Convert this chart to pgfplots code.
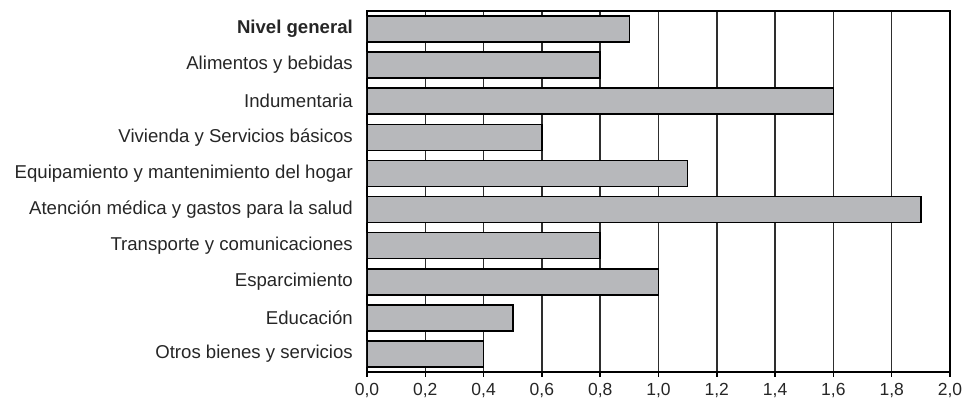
\documentclass[border=0pt]{standalone}
\usepackage{pgfplots}
\pgfplotsset{compat=1.18}
\usepackage{fontspec}
\setmainfont{Liberation Sans}
\definecolor{barfill}{HTML}{B7B8BB}
\definecolor{txt}{HTML}{262626}
\definecolor{gridc}{HTML}{2E2E2E}

\begin{document}
\begin{tikzpicture}
\begin{axis}[
  name=ax,
  scale only axis,
  width=583pt, height=361pt,
  xbar, bar width=0.72,
  xmin=0, xmax=2, ymin=-0.5, ymax=9.5,
  y dir=reverse,
  xtick={0,0.2,...,2.0},
  ytick={0,...,9},
  yticklabels={\textbf{Nivel general},Alimentos y bebidas,Indumentaria,Vivienda y Servicios básicos,Equipamiento y mantenimiento del hogar,Atención médica y gastos para la salud,Transporte y comunicaciones,Esparcimiento,Educación,Otros bienes y servicios},
  xticklabel style={/pgf/number format/fixed, /pgf/number format/fixed zerofill,
    /pgf/number format/precision=1, /pgf/number format/use comma,
    /pgf/number format/assume math mode=true,
    font=\fontsize{17.5}{20}\selectfont, text=txt, yshift=-3pt},
  yticklabel style={font=\fontsize{18.6}{22}\selectfont, text=txt, inner sep=0pt, xshift=-9pt},
  xtick pos=bottom, ytick pos=left,
  x tick style={black, line width=1.5pt},
  xtick align=outside, major tick length=5pt,
  y tick style={draw=none},
  xmajorgrids,
  major grid style={gridc, line width=1.5pt},
  axis line style={black, line width=1.8pt},
]
\addplot[fill=barfill, draw=black, line width=1.6pt] coordinates {
  (0.9,0) (0.8,1) (1.6,2) (0.6,3) (1.1,4) (1.9,5) (0.8,6) (1.0,7) (0.5,8) (0.4,9)
};
\end{axis}
\pgfresetboundingbox
\path ([xshift=-367pt,yshift=-35pt]ax.south west) rectangle ([xshift=15pt,yshift=11pt]ax.north east);
\end{tikzpicture}
\end{document}
